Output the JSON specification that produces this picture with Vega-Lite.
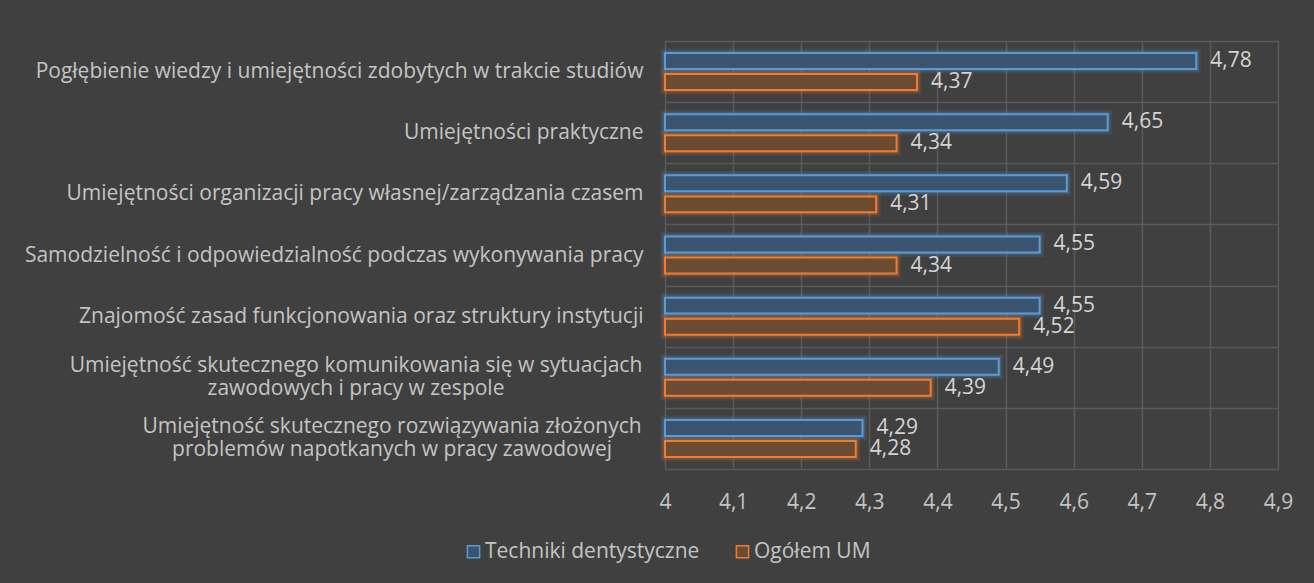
{
  "$schema": "https://vega.github.io/schema/vega-lite/v6.json",
  "width": 613,
  "height": 428,
  "autosize": {"type": "none"},
  "padding": {"left": 665, "top": 41, "right": 36, "bottom": 114},
  "background": "#404040",
  "config": {
    "view": {"stroke": null},
    "font": "Open Sans",
    "locale": {"number": {"decimal": ",", "thousands": " ", "grouping": [3], "currency": ["", " zł"]}}
  },
  "data": {
    "values": [
      {"cat": "Pogłębienie wiedzy i umiejętności zdobytych w trakcie studiów", "series": "Techniki dentystyczne", "value": 4.78},
      {"cat": "Pogłębienie wiedzy i umiejętności zdobytych w trakcie studiów", "series": "Ogółem UM", "value": 4.37},
      {"cat": "Umiejętności praktyczne", "series": "Techniki dentystyczne", "value": 4.65},
      {"cat": "Umiejętności praktyczne", "series": "Ogółem UM", "value": 4.34},
      {"cat": "Umiejętności organizacji pracy własnej/zarządzania czasem", "series": "Techniki dentystyczne", "value": 4.59},
      {"cat": "Umiejętności organizacji pracy własnej/zarządzania czasem", "series": "Ogółem UM", "value": 4.31},
      {"cat": "Samodzielność i odpowiedzialność podczas wykonywania pracy", "series": "Techniki dentystyczne", "value": 4.55},
      {"cat": "Samodzielność i odpowiedzialność podczas wykonywania pracy", "series": "Ogółem UM", "value": 4.34},
      {"cat": "Znajomość zasad funkcjonowania oraz struktury instytucji", "series": "Techniki dentystyczne", "value": 4.55},
      {"cat": "Znajomość zasad funkcjonowania oraz struktury instytucji", "series": "Ogółem UM", "value": 4.52},
      {"cat": "Umiejętność skutecznego komunikowania się w sytuacjach|zawodowych i pracy w zespole", "series": "Techniki dentystyczne", "value": 4.49},
      {"cat": "Umiejętność skutecznego komunikowania się w sytuacjach|zawodowych i pracy w zespole", "series": "Ogółem UM", "value": 4.39},
      {"cat": "Umiejętność skutecznego rozwiązywania złożonych|problemów napotkanych w pracy zawodowej", "series": "Techniki dentystyczne", "value": 4.29},
      {"cat": "Umiejętność skutecznego rozwiązywania złożonych|problemów napotkanych w pracy zawodowej", "series": "Ogółem UM", "value": 4.28}
    ]
  },
  "encoding": {
    "y": {
      "field": "cat", "type": "nominal", "sort": null,
      "scale": {"paddingInner": 0, "paddingOuter": 0},
      "axis": {
        "title": null, "domain": false, "ticks": false, "grid": true, "tickBand": "extent",
        "gridColor": "#5a5a5a", "gridWidth": 1.5,
        "labelFontSize": 21, "labelColor": "#c4c4c4", "labelLimit": 0, "labelPadding": 22,
        "labelExpr": "indexof(datum.label, '|') < 0 ? datum.label : ''"
      }
    },
    "x": {
      "field": "value", "type": "quantitative",
      "scale": {"domain": [4, 4.9], "nice": false, "zero": false},
      "axis": {
        "title": null, "domain": false, "ticks": false, "grid": true,
        "gridColor": "#5a5a5a", "gridWidth": 1.5, "labelFlush": false,
        "values": [4, 4.1, 4.2, 4.3, 4.4, 4.5, 4.6, 4.7, 4.8, 4.9],
        "labelExpr": "replace(format(datum.value, '.1~f'), '.', ',')",
        "labelPadding": 22, "labelFontSize": 21, "labelColor": "#c4c4c4"
      }
    }
  },
  "layer": [
    {
      "mark": {"type": "bar", "fillOpacity": 0, "strokeWidth": 9, "strokeOpacity": 0.12},
      "encoding": {
        "x2": {"datum": 4},
        "yOffset": {"field": "series", "type": "nominal", "sort": ["Techniki dentystyczne", "Ogółem UM"],
          "scale": {"paddingInner": 0.24, "paddingOuter": 0.575}},
        "stroke": {"field": "series", "type": "nominal", "sort": ["Techniki dentystyczne", "Ogółem UM"],
          "scale": {"domain": ["Techniki dentystyczne", "Ogółem UM"], "range": ["#5b9bd5", "#ed7d31"]}}
      }
    },
    {
      "mark": {"type": "bar", "fillOpacity": 0, "strokeWidth": 5, "strokeOpacity": 0.22},
      "encoding": {
        "x2": {"datum": 4},
        "yOffset": {"field": "series", "type": "nominal", "sort": ["Techniki dentystyczne", "Ogółem UM"]},
        "stroke": {"field": "series", "type": "nominal", "sort": ["Techniki dentystyczne", "Ogółem UM"]}
      }
    },
    {
      "mark": {"type": "bar", "strokeWidth": 2},
      "encoding": {
        "x2": {"datum": 4},
        "yOffset": {"field": "series", "type": "nominal", "sort": ["Techniki dentystyczne", "Ogółem UM"]},
        "fill": {"field": "series", "type": "nominal", "legend": null,
          "scale": {"domain": ["Techniki dentystyczne", "Ogółem UM"], "range": ["#3b5570", "#6b4c33"]}},
        "stroke": {"field": "series", "type": "nominal", "sort": ["Techniki dentystyczne", "Ogółem UM"],
          "legend": {
            "title": null, "orient": "none", "direction": "horizontal",
            "legendX": -202, "legendY": 500,
            "symbolType": "square", "symbolSize": 150, "symbolStrokeWidth": 1.5,
            "symbolFillColor": "transparent",
            "labelFontSize": 21, "labelColor": "#c4c4c4", "labelOffset": 1,
            "columnPadding": 32, "labelLimit": 0
          }}
      }
    },
    {
      "mark": {"type": "text", "align": "left", "baseline": "middle", "dx": 14, "fontSize": 21, "color": "#d4d4d4"},
      "encoding": {
        "yOffset": {"field": "series", "type": "nominal", "sort": ["Techniki dentystyczne", "Ogółem UM"]},
        "text": {"field": "value", "type": "quantitative", "format": ".2f"}
      }
    },
    {
      "transform": [
        {"filter": "datum.series === 'Techniki dentystyczne' && indexof(datum.cat, 'komunikowania') >= 0"},
        {"calculate": "split(datum.cat, '|')", "as": "lines"}
      ],
      "mark": {"type": "text", "align": "center", "baseline": "middle", "dx": -309, "dy": -11.5, "lineHeight": 23, "fontSize": 21, "color": "#c4c4c4"},
      "encoding": {
        "x": {"datum": 4},
        "text": {"field": "lines"}
      }
    },
    {
      "transform": [
        {"filter": "datum.series === 'Techniki dentystyczne' && indexof(datum.cat, 'rozwiązywania') >= 0"},
        {"calculate": "split(datum.cat, '|')", "as": "lines"}
      ],
      "mark": {"type": "text", "align": "center", "baseline": "middle", "dx": -273, "dy": -11.5, "lineHeight": 23, "fontSize": 21, "color": "#c4c4c4"},
      "encoding": {
        "x": {"datum": 4},
        "text": {"field": "lines"}
      }
    }
  ]
}
